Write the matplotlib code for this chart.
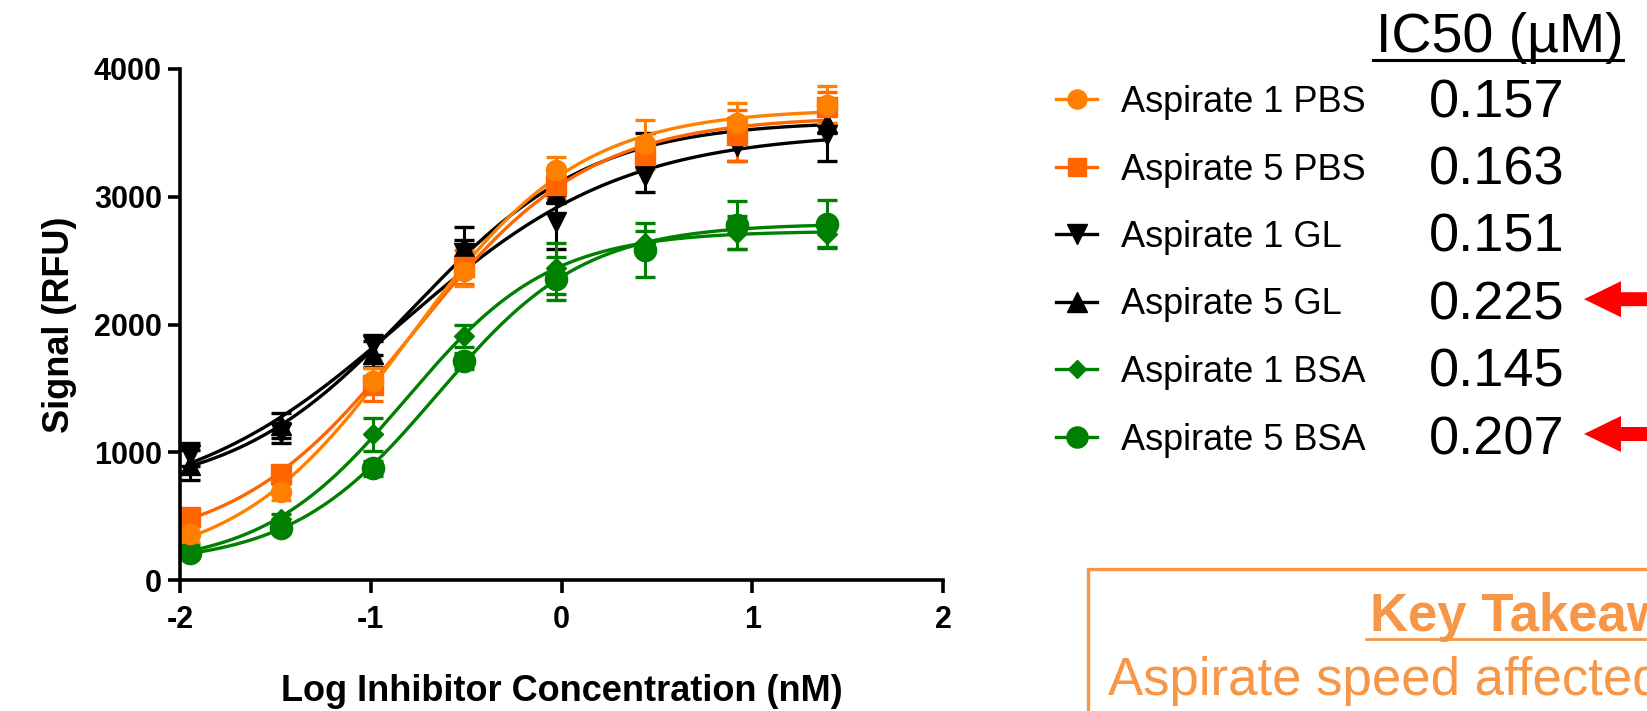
import numpy as np
import matplotlib
matplotlib.use("Agg")
import matplotlib.pyplot as plt
from matplotlib.lines import Line2D
from matplotlib.patches import Rectangle, FancyArrow

plt.rcParams['font.family'] = ['Liberation Sans', 'DejaVu Sans']
plt.rcParams['axes.unicode_minus'] = False

# log inhibitor concentration (nM), 3-fold dilution series
log_conc = [-1.95, -1.47, -0.99, -0.51, -0.03, 0.44, 0.92, 1.39]

labels = ['Aspirate 1 PBS', 'Aspirate 5 PBS', 'Aspirate 1 GL',
          'Aspirate 5 GL', 'Aspirate 1 BSA', 'Aspirate 5 BSA']
ic50_text = ['0.157', '0.163', '0.151', '0.225', '0.145', '0.207']
flagged = ['Aspirate 5 GL', 'Aspirate 5 BSA']

a1_pbs = [360, 690, 1560, 2420, 3210, 3410, 3580, 3720]
a1_pbs_err = [60, 60, 100, 120, 100, 190, 150, 150]
a5_pbs = [495, 830, 1530, 2450, 3090, 3330, 3480, 3700]
a5_pbs_err = [60, 60, 130, 130, 100, 100, 200, 120]
a1_gl = [980, 1150, 1840, 2560, 2800, 3160, 3400, 3480]
a1_gl_err = [90, 80, 80, 100, 210, 120, 120, 200]
a5_gl = [900, 1210, 1770, 2610, 3030, 3390, 3520, 3580]
a5_gl_err = [120, 100, 100, 150, 80, 110, 100, 80]
a1_bsa = [235, 475, 1140, 1910, 2440, 2640, 2720, 2710]
a1_bsa_err = [40, 40, 130, 90, 200, 90, 130, 100]
a5_bsa = [210, 410, 875, 1715, 2358, 2582, 2779, 2785]
a5_bsa_err = [40, 40, 60, 60, 170, 210, 190, 190]

series = {
    'Aspirate 1 PBS': (a1_pbs, a1_pbs_err),
    'Aspirate 5 PBS': (a5_pbs, a5_pbs_err),
    'Aspirate 1 GL': (a1_gl, a1_gl_err),
    'Aspirate 5 GL': (a5_gl, a5_gl_err),
    'Aspirate 1 BSA': (a1_bsa, a1_bsa_err),
    'Aspirate 5 BSA': (a5_bsa, a5_bsa_err),
}
styles = {
    'Aspirate 1 PBS': dict(color='#FF8000', marker='o', ms=14.5),
    'Aspirate 5 PBS': dict(color='#FF6600', marker='s', ms=14),
    'Aspirate 1 GL': dict(color='black', marker='v', ms=15),
    'Aspirate 5 GL': dict(color='black', marker='^', ms=15),
    'Aspirate 1 BSA': dict(color='#008000', marker='D', ms=10),
    'Aspirate 5 BSA': dict(color='#008000', marker='o', ms=16),
}
draw_order = ['Aspirate 1 GL', 'Aspirate 5 GL', 'Aspirate 1 BSA',
              'Aspirate 5 BSA', 'Aspirate 5 PBS', 'Aspirate 1 PBS']


def fit_4pl(x, y):
    # grid over logEC50 / hill, linear least squares for bottom / top
    x = np.asarray(x, float)
    y = np.asarray(y, float)
    c = np.arange(-2.5, 1.5, 0.005)[:, None, None]
    h = np.arange(0.3, 2.5, 0.01)[None, :, None]
    s = 1.0 / (1.0 + 10 ** ((c - x) * h))
    u = 1 - s
    a11 = (u * u).sum(-1); a12 = (u * s).sum(-1); a22 = (s * s).sum(-1)
    b1 = (u * y).sum(-1); b2 = (s * y).sum(-1)
    det = a11 * a22 - a12 ** 2
    bot = (b1 * a22 - b2 * a12) / det
    top = (a11 * b2 - a12 * b1) / det
    sse = ((bot[..., None] * u + top[..., None] * s - y) ** 2).sum(-1)
    i, j = np.unravel_index(np.nanargmin(sse), sse.shape)
    return bot[i, j], top[i, j], c[i, 0, 0], h[0, j, 0]


W, H = 1647, 711
fig = plt.figure(figsize=(W / 100, H / 100), dpi=100)


def fx(px):
    return px / W


def fy(py):
    return 1 - py / H


ax = fig.add_axes([fx(180), fy(580), fx(943) - fx(180), fy(69) - fy(580)])

for name in draw_order:
    y, err = series[name]
    st = styles[name]
    b, t, c, h = fit_4pl(log_conc, y)
    xs = np.linspace(log_conc[0], log_conc[-1], 300)
    ax.plot(xs, b + (t - b) / (1 + 10 ** ((c - xs) * h)), color=st['color'],
            lw=2.4, clip_on=False)
    ax.errorbar(log_conc, y, yerr=err, fmt=st['marker'], color=st['color'],
                ms=st['ms'], elinewidth=2.2, capsize=7.5, capthick=2.4,
                clip_on=False)

ax.set_xlim(-2, 2)
ax.set_ylim(0, 4000)
ax.set_xticks([-2, -1, 0, 1, 2])
ax.set_yticks([0, 1000, 2000, 3000, 4000])
for sp in ['top', 'right']:
    ax.spines[sp].set_visible(False)
for sp in ['left', 'bottom']:
    ax.spines[sp].set_linewidth(2.6)
ax.tick_params(width=2.6, length=9, labelsize=22, pad=4)
ax.tick_params(axis='x', pad=9)
for lab in ax.get_xticklabels() + ax.get_yticklabels():
    lab.set_fontweight('bold')
ax.set_xlabel('Log Inhibitor Concentration (nM)', fontsize=26,
              fontweight='bold', labelpad=28)
ax.set_ylabel('Signal (RFU)', fontsize=26, fontweight='bold', labelpad=12)

# legend
handles = [Line2D([], [], color=styles[n]['color'], marker=styles[n]['marker'],
                  ms=styles[n]['ms'] * 0.95, lw=2.4) for n in labels]
fig.legend(handles, labels, loc='upper left',
           bbox_to_anchor=(fx(1056), fy(85)), frameon=False, fontsize=26,
           handlelength=1.14, handletextpad=0.66, labelspacing=0.9,
           borderpad=0, borderaxespad=0)

# IC50 column
fig.text(fx(1376), fy(52), 'IC50 (µM)', fontsize=40, va='baseline')
fig.add_artist(Line2D([fx(1373), fx(1623)], [fy(60), fy(60)], color='black',
                      lw=2.2))
for k, (name, val) in enumerate(zip(labels, ic50_text)):
    base = 117 + k * 67.4
    fig.text(fx(1429), fy(base), val, fontsize=39, va='baseline')
    if name in flagged:
        yc = base - 20
        fig.add_artist(FancyArrow(fx(1670), fy(yc), fx(1584) - fx(1670), 0,
                                  width=14 / H, head_width=36 / H,
                                  head_length=37 / W,
                                  length_includes_head=True, color='#FF0000',
                                  lw=0))

# key takeaways box
orange = '#F79646'
fig.add_artist(Rectangle((fx(1088), fy(740)), fx(1700) - fx(1088),
                         fy(569) - fy(740), fill=False, ec=orange, lw=2.4))
fig.text(fx(1370), fy(631), 'Key Takeaways', fontsize=38, fontweight='bold',
         color=orange, va='baseline')
fig.add_artist(Line2D([fx(1366), fx(1700)], [fy(639), fy(639)], color=orange,
                      lw=2))
fig.text(fx(1108), fy(695), 'Aspirate speed affected', fontsize=38,
         color=orange, va='baseline')

fig.savefig('out.png', dpi=100)
